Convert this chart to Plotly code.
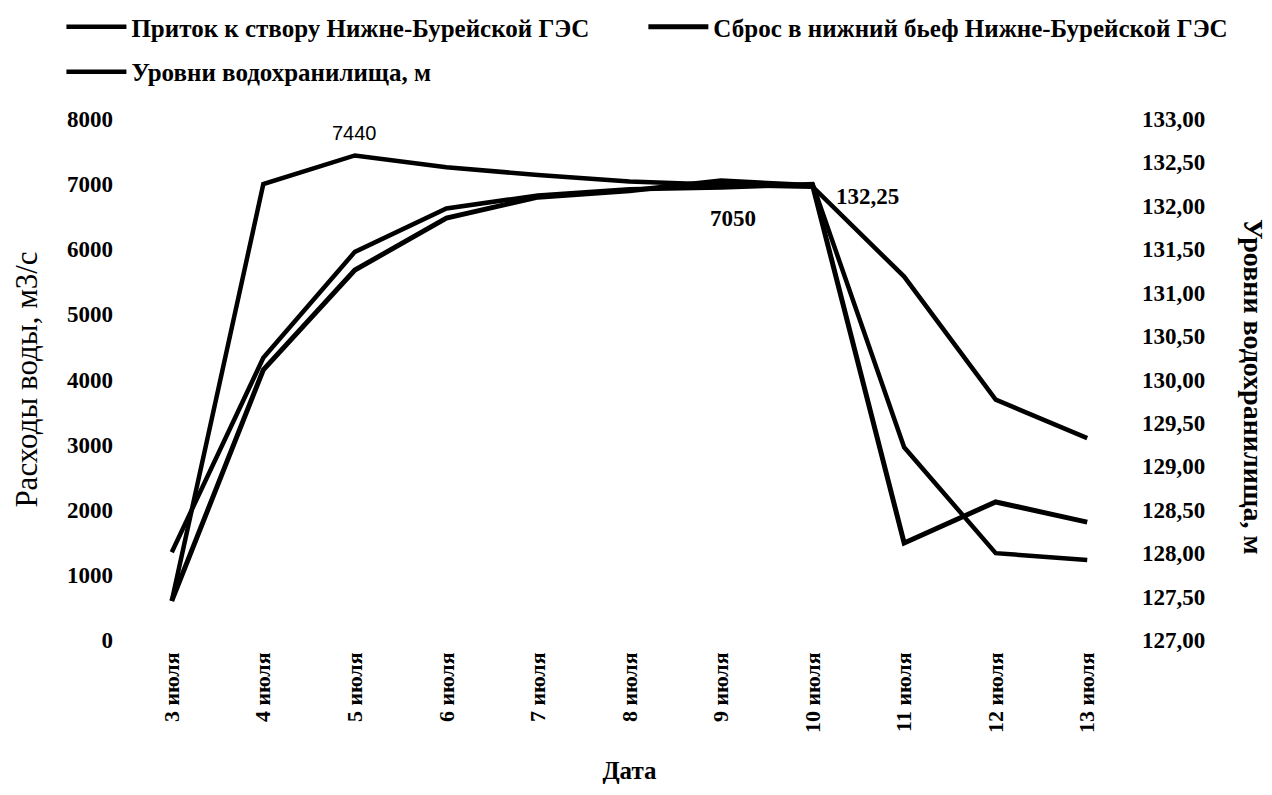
import plotly.graph_objects as go

# categories (dates) and series
dates = ["3 июля", "4 июля", "5 июля", "6 июля", "7 июля", "8 июля",
         "9 июля", "10 июля", "11 июля", "12 июля", "13 июля"]
inflow = [600, 7000, 7440, 7260, 7140, 7040, 6990, 6960, 5580, 3690, 3100]
discharge = [600, 4150, 5680, 6480, 6800, 6900, 7050, 6980, 1490, 2120, 1810]
levels = [128.01, 130.25, 131.47, 131.97, 132.12, 132.19, 132.21, 132.25,
          129.22, 128.00, 127.92]

serif = "Liberation Serif"


def legend_box(x, y):
    # one legend per entry so the rows sit like in the original
    return dict(
        orientation="h",
        xref="container", yref="container",
        x=x, y=y, xanchor="left", yanchor="middle",
        itemwidth=60,
        font=dict(family=serif, size=25, weight="bold"),
        bgcolor="rgba(0,0,0,0)",
    )


def create_figure() -> go.Figure:
    layout = go.Layout(
        width=1272,
        height=795,
        # the page adds an 8px body margin, so everything is nudged up/left
        margin=dict(l=118, r=147, t=111, b=163, autoexpand=False),
        paper_bgcolor="white",
        plot_bgcolor="white",
        separators=", ",
        font=dict(family=serif, color="black", size=22),
        xaxis=dict(
            type="category",
            range=[-0.5, len(dates) - 0.5],
            tickangle=-90,
            tickfont=dict(family=serif, size=22, weight="bold"),
            ticklabelstandoff=7,
            showgrid=False,
            showline=False,
            ticks="",
            title=dict(text="Дата", font=dict(family=serif, size=25, weight="bold"), standoff=29),
        ),
        yaxis=dict(
            range=[0, 8000],
            dtick=1000,
            showgrid=False,
            zeroline=False,
            showline=False,
            ticks="",
            ticklabelstandoff=12,
            tickfont=dict(family=serif, size=23, weight="bold"),
            title=dict(text="Расходы воды, м3/с", font=dict(family=serif, size=31), standoff=20),
        ),
        yaxis2=dict(
            range=[127, 133],
            dtick=0.5,
            tickformat=".2f",
            overlaying="y",
            side="right",
            showgrid=False,
            zeroline=False,
            showline=False,
            ticks="",
            ticklabelstandoff=8,
            tickfont=dict(family=serif, size=23, weight="bold"),
        ),
        legend=legend_box(0.042, 0.976),
        legend2=legend_box(0.4995, 0.976),
        legend3=legend_box(0.042, 0.9195),
        showlegend=True,
    )
    return go.Figure(layout=layout)


def add_lines(fig: go.Figure):
    fig.add_trace(go.Scatter(x=dates, y=inflow, mode="lines",
                             name="Приток к створу Нижне-Бурейской ГЭС",
                             line=dict(color="black", width=4.5)))
    fig.add_trace(go.Scatter(x=dates, y=discharge, mode="lines", legend="legend2",
                             name="Сброс в нижний бьеф Нижне-Бурейской ГЭС",
                             line=dict(color="black", width=5)))
    fig.add_trace(go.Scatter(x=dates, y=levels, mode="lines", yaxis="y2",
                             name="Уровни водохранилища, м", legend="legend3",
                             line=dict(color="black", width=4.5)))


def add_labels(fig: go.Figure):
    # value labels at the maxima
    i = inflow.index(max(inflow))
    fig.add_annotation(x=dates[i], y=inflow[i], text=f"{inflow[i]}", showarrow=False,
                       yshift=22, font=dict(family="Liberation Sans", size=20))
    j = discharge.index(max(discharge))
    fig.add_annotation(x=dates[j], y=discharge[j], text=f"{discharge[j]}", showarrow=False,
                       xshift=12, yshift=-38, font=dict(family=serif, size=23, weight="bold"))
    k = levels.index(max(levels))
    fig.add_annotation(x=dates[k], y=levels[k], yref="y2", text=f"{levels[k]:.2f}".replace(".", ","),
                       showarrow=False, xshift=55, yshift=-12,
                       font=dict(family=serif, size=23, weight="bold"))
    # right axis title reads top to bottom
    fig.add_annotation(xref="paper", yref="paper", x=1, y=0.5, xshift=138, yshift=-7,
                       text="Уровни водохранилища, м", textangle=90, showarrow=False,
                       font=dict(family=serif, size=28, weight="bold"))


if __name__ == "__main__":
    fig = create_figure()
    add_lines(fig)
    add_labels(fig)
    fig.write_html("out.html")
